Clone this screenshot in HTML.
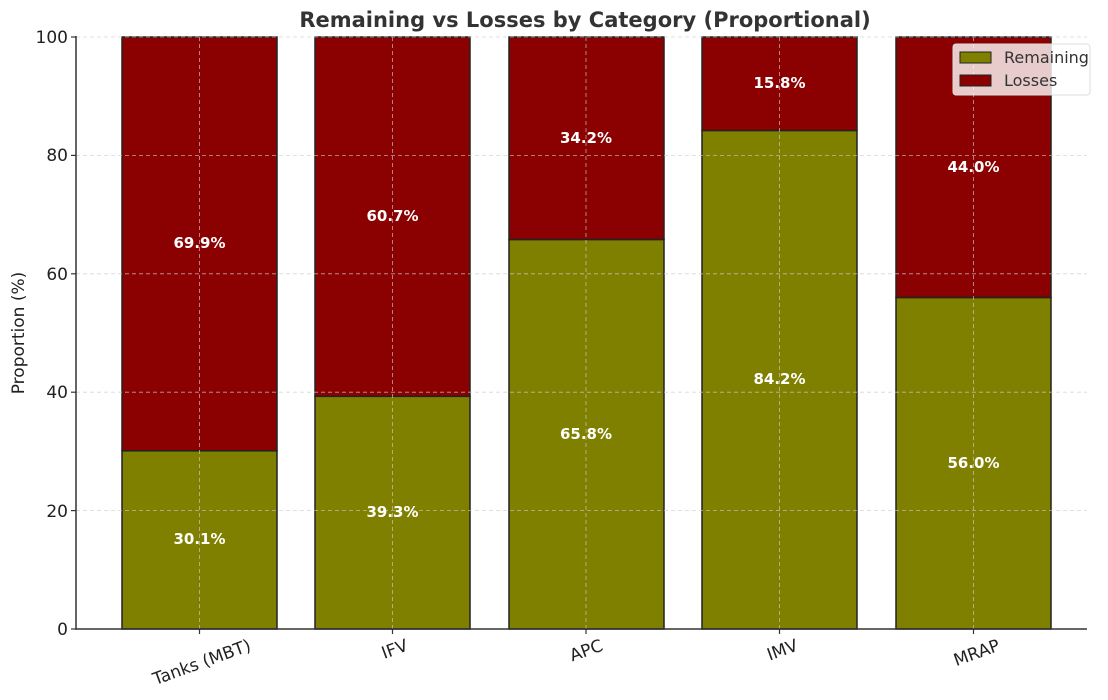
<!DOCTYPE html>
<html><head><meta charset="utf-8"><style>body{margin:0;background:#fff}svg{display:block}</style></head><body>
<svg width="1108" height="700" xmlns="http://www.w3.org/2000/svg" font-family="DejaVu Sans, Liberation Sans, sans-serif">
<rect width="1108" height="700" fill="#fff"/>
<text x="585" y="27" text-anchor="middle" font-size="21" font-weight="bold" fill="#333">Remaining vs Losses by Category (Proportional)</text>
<g stroke="#222" stroke-width="1.5">
<rect x="122" y="450.8" width="155" height="178.2" fill="#808000"/>
<rect x="122" y="37" width="155" height="413.8" fill="#8b0000"/>
<rect x="315" y="396.3" width="155" height="232.7" fill="#808000"/>
<rect x="315" y="37" width="155" height="359.3" fill="#8b0000"/>
<rect x="509" y="239.5" width="155" height="389.5" fill="#808000"/>
<rect x="509" y="37" width="155" height="202.5" fill="#8b0000"/>
<rect x="702" y="130.5" width="155" height="498.5" fill="#808000"/>
<rect x="702" y="37" width="155" height="93.5" fill="#8b0000"/>
<rect x="896" y="297.5" width="155" height="331.5" fill="#808000"/>
<rect x="896" y="37" width="155" height="260.5" fill="#8b0000"/>
</g>
<g stroke="#ccc" stroke-width="0.8" stroke-dasharray="4,3" opacity="0.8">
<line x1="76" x2="1087" y1="37" y2="37"/><line x1="76" x2="1087" y1="155.4" y2="155.4"/><line x1="76" x2="1087" y1="273.8" y2="273.8"/><line x1="76" x2="1087" y1="392.2" y2="392.2"/><line x1="76" x2="1087" y1="510.6" y2="510.6"/>
<line x1="199.5" x2="199.5" y1="37" y2="629"/><line x1="392.5" x2="392.5" y1="37" y2="629"/><line x1="586" x2="586" y1="37" y2="629"/><line x1="779.5" x2="779.5" y1="37" y2="629"/><line x1="973.5" x2="973.5" y1="37" y2="629"/>
</g>
<g font-size="15" font-weight="bold" fill="#fff" text-anchor="middle">
<text x="199.5" y="544">30.1%</text><text x="199.5" y="248">69.9%</text>
<text x="392.5" y="517">39.3%</text><text x="392.5" y="221">60.7%</text>
<text x="586" y="439">65.8%</text><text x="586" y="143">34.2%</text>
<text x="779.5" y="384">84.2%</text><text x="779.5" y="88">15.8%</text>
<text x="973.5" y="468">56.0%</text><text x="973.5" y="172">44.0%</text>
</g>
<g stroke="#333" stroke-width="1.5" fill="none"><line x1="76" y1="36" x2="76" y2="629.7"/><line x1="75.3" y1="629" x2="1087" y2="629"/></g>
<g stroke="#333" stroke-width="1.2">
<line x1="71" x2="76" y1="37" y2="37"/><line x1="71" x2="76" y1="155.4" y2="155.4"/><line x1="71" x2="76" y1="273.8" y2="273.8"/><line x1="71" x2="76" y1="392.2" y2="392.2"/><line x1="71" x2="76" y1="510.6" y2="510.6"/><line x1="71" x2="76" y1="629" y2="629"/>
<line x1="199.5" x2="199.5" y1="629" y2="634"/><line x1="392.5" x2="392.5" y1="629" y2="634"/><line x1="586" x2="586" y1="629" y2="634"/><line x1="779.5" x2="779.5" y1="629" y2="634"/><line x1="973.5" x2="973.5" y1="629" y2="634"/>
</g>
<g font-size="17" fill="#222" text-anchor="end">
<text x="68" y="43">100</text><text x="68" y="161">80</text><text x="68" y="280">60</text><text x="68" y="398">40</text><text x="68" y="517">20</text><text x="68" y="635">0</text>
</g>
<text transform="translate(24,333) rotate(-90)" text-anchor="middle" font-size="17" fill="#222">Proportion (%)</text>
<g font-size="17" fill="#222" text-anchor="end">
<text transform="translate(252,650) rotate(-20)">Tanks (MBT)</text>
<text transform="translate(409,650) rotate(-20)">IFV</text>
<text transform="translate(604,650) rotate(-20)">APC</text>
<text transform="translate(799,650) rotate(-20)">IMV</text>
<text transform="translate(1001,650) rotate(-20)">MRAP</text>
</g>
<rect x="953" y="44" width="137" height="51" rx="3" fill="#fff" fill-opacity="0.8" stroke="#ddd"/>
<rect x="960" y="52" width="31" height="11" fill="#808000" stroke="#222"/>
<rect x="960" y="75" width="31" height="11" fill="#8b0000" stroke="#222"/>
<g font-size="16" fill="#333"><text x="1004" y="63">Remaining</text><text x="1004" y="86">Losses</text></g>
</svg>
</body></html>
